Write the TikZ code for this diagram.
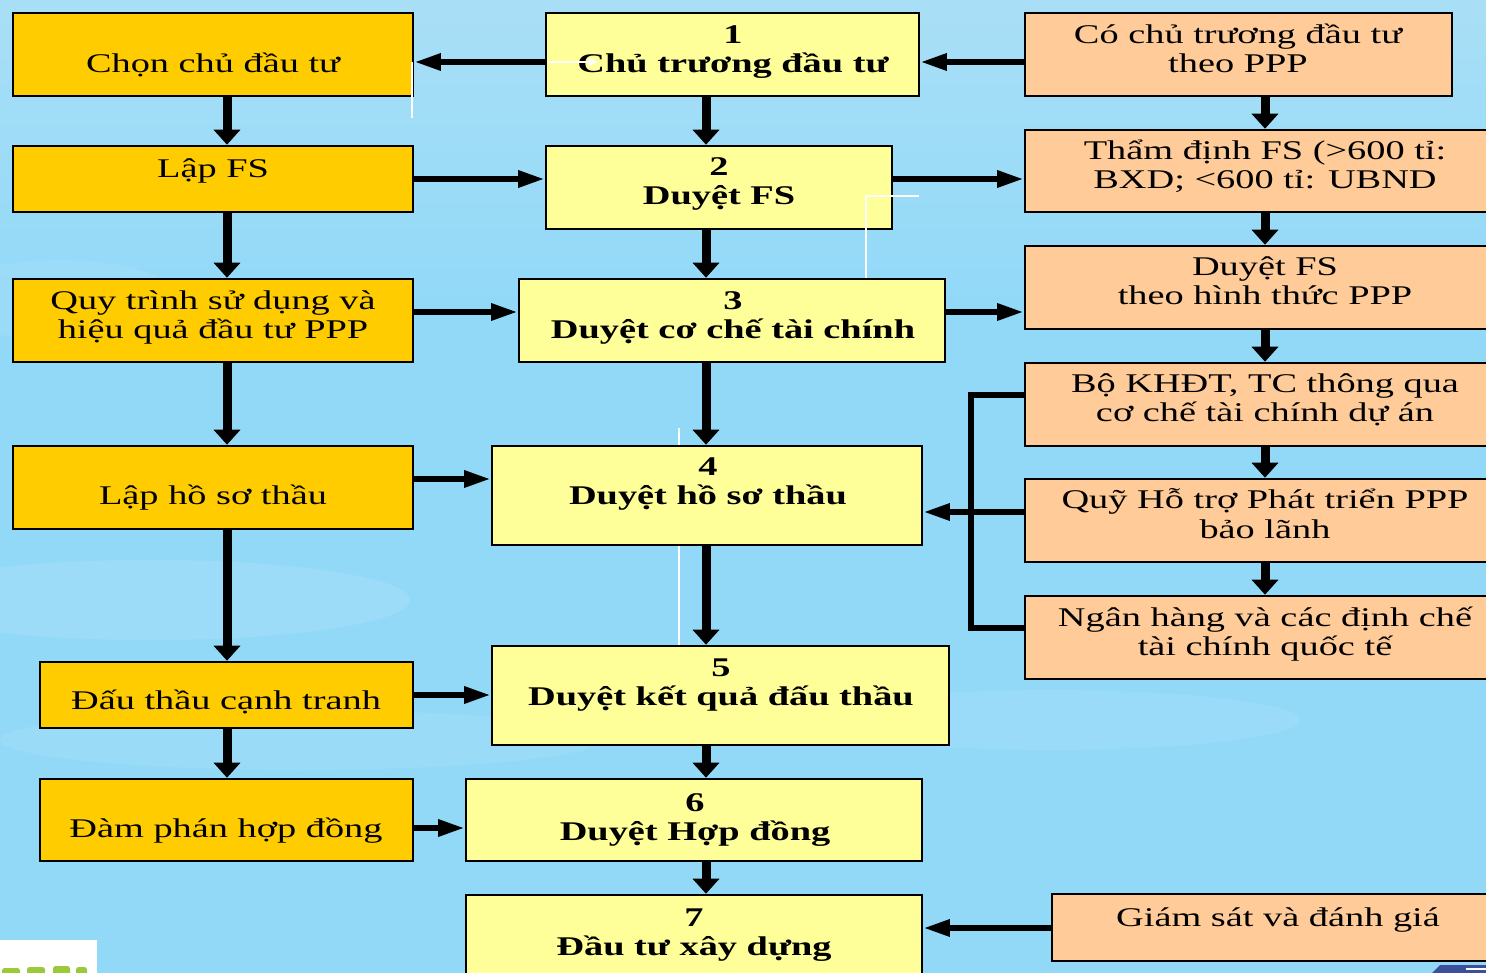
\documentclass[tikz,border=0pt]{standalone}
\usepackage{fontspec}
\setmainfont{Liberation Serif}[FakeStretch=1.42]
\usetikzlibrary{arrows.meta,fit,calc}
\definecolor{gold}{HTML}{FFCC00}
\definecolor{lyel}{HTML}{FFFF99}
\definecolor{peach}{HTML}{FFCC99}
\definecolor{sky}{HTML}{92D9F8}
\definecolor{skytop}{HTML}{A9DFF6}
\definecolor{navy}{HTML}{3B4F9A}
\definecolor{leaf}{HTML}{9CC93A}
\begin{document}
\begin{tikzpicture}[x=0.75pt,y=-0.75pt,
  box/.style={draw=black,line width=1.9pt,inner sep=0pt},
  gbox/.style={box,fill=gold},
  ybox/.style={box,fill=lyel},
  pbox/.style={box,fill=peach},
  txt/.style={anchor=base,align=center,inner sep=0pt,yshift=-1.5pt,font=\fontsize{20.25pt}{21.75pt}\selectfont},
  btxt/.style={txt,font=\fontsize{20.25pt}{21.75pt}\selectfont\bfseries},
  va/.style={line width=6.75pt,-{Triangle[length=11.25pt,width=19.5pt]}},
  ha/.style={line width=4.5pt,-{Triangle[length=20pt,width=12pt]}},
  hl/.style={line width=4.5pt,line join=miter},
  art/.style={draw=white,line width=1.5pt}
]
\useasboundingbox (0,0) rectangle (1486,973);
\begin{scope}
\clip (0,0) rectangle (1486,973);
% background
\shade[top color=skytop,bottom color=sky] (0,0) rectangle (1486,300);
\fill[sky] (0,299) rectangle (1486,973);
\fill[white,opacity=0.10] (150,600) ellipse (260 and 40);
\fill[white,opacity=0.08] (300,740) ellipse (300 and 30);
\fill[white,opacity=0.07] (1050,720) ellipse (250 and 30);
\fill[white,opacity=0.08] (60,300) ellipse (120 and 40);
% artifact behind box 4
\draw[art] (679,428) -- (679,645);

% coordinates for connector lines
\coordinate (xL) at (227,0);
\coordinate (xM) at (706,0);
\coordinate (xR) at (1265,0);
\coordinate (y1) at (0,62);
\coordinate (y2) at (0,179);
\coordinate (y3) at (0,312);
\coordinate (y4) at (0,479);
\coordinate (y4r) at (0,512);
\coordinate (y5) at (0,695);
\coordinate (y6) at (0,828);
\coordinate (y7) at (0,928);
\coordinate (b1) at (971,395);
\coordinate (b2) at (971,628);

% left column
\node[gbox,fit={(13,13)(413,96)}] (L1) {};
\node[gbox,fit={(13,146)(413,212)}] (L2) {};
\node[gbox,fit={(13,279)(413,362)}] (L3) {};
\node[gbox,fit={(13,446)(413,529)}] (L4) {};
\node[gbox,fit={(40,662)(413,728)}] (L5) {};
\node[gbox,fit={(40,779)(413,861)}] (L6) {};
% middle column
\node[ybox,fit={(546,13)(919,96)}] (M1) {};
\node[ybox,fit={(546,146)(892,229)}] (M2) {};
\node[ybox,fit={(519,279)(945,362)}] (M3) {};
\node[ybox,fit={(492,446)(922,545)}] (M4) {};
\node[ybox,fit={(492,646)(949,745)}] (M5) {};
\node[ybox,fit={(466,779)(922,861)}] (M6) {};
\node[ybox,fit={(466,895)(922,990)}] (M7) {};
% right column
\node[pbox,fit={(1025,13)(1452,96)}] (R1) {};
\node[pbox,fit={(1025,130)(1500,212)}] (R2) {};
\node[pbox,fit={(1025,246)(1500,329)}] (R3) {};
\node[pbox,fit={(1025,363)(1500,446)}] (R4) {};
\node[pbox,fit={(1025,479)(1500,562)}] (R5) {};
\node[pbox,fit={(1025,596)(1500,679)}] (R6) {};
\node[pbox,fit={(1052,894)(1500,961)}] (R7) {};

% texts (base anchor = baseline of the last line)
\node[txt] (tL1) at (213,71) {Chọn chủ đầu tư};
\node[txt] (tL2) at (213,176) {Lập FS};
\node[txt] (tL3) at (213,337) {Quy trình sử dụng và\\hiệu quả đầu tư PPP};
\node[txt] (tL4) at (213,503) {Lập hồ sơ thầu};
\node[txt] (tL5) at (226,707) {Đấu thầu cạnh tranh};
\node[txt] (tL6) at (226,835) {Đàm phán hợp đồng};

\node[btxt] (tM1) at (733,71) {1\\Chủ trương đầu tư};
\node[btxt] (tM2) at (719,203) {2\\Duyệt FS};
\node[btxt] (tM3) at (733,337) {3\\Duyệt cơ chế tài chính};
\node[btxt] (tM4) at (708,503) {4\\Duyệt hồ sơ thầu};
\node[btxt] (tM5) at (721,703) {5\\Duyệt kết quả đấu thầu};
\node[btxt] (tM6) at (695,838) {6\\Duyệt Hợp đồng};
\node[btxt] (tM7) at (694,953) {7\\Đầu tư xây dựng};

\node[txt] (tR1) at (1238,71) {Có chủ trương đầu tư\\theo PPP};
\node[txt] (tR2) at (1265,187) {Thẩm định FS (>600 tỉ:\\BXD; <600 tỉ: UBND};
\node[txt] (tR3) at (1265,303) {Duyệt FS\\theo hình thức PPP};
\node[txt] (tR4) at (1265,420) {Bộ KHĐT, TC thông qua\\cơ chế tài chính dự án};
\node[txt] (tR5) at (1265,536) {Quỹ Hỗ trợ Phát triển PPP\\bảo lãnh};
\node[txt] (tR6) at (1265,653) {Ngân hàng và các định chế\\tài chính quốc tế};
\node[txt] (tR7) at (1278,924) {Giám sát và đánh giá};

% vertical arrows
\draw[va] (L1.south -| xL) -- (L2.north -| xL);
\draw[va] (L2.south -| xL) -- (L3.north -| xL);
\draw[va] (L3.south -| xL) -- (L4.north -| xL);
\draw[va] (L4.south -| xL) -- (L5.north -| xL);
\draw[va] (L5.south -| xL) -- (L6.north -| xL);
\draw[va] (M1.south -| xM) -- (M2.north -| xM);
\draw[va] (M2.south -| xM) -- (M3.north -| xM);
\draw[va] (M3.south -| xM) -- (M4.north -| xM);
\draw[va] (M4.south -| xM) -- (M5.north -| xM);
\draw[va] (M5.south -| xM) -- (M6.north -| xM);
\draw[va] (M6.south -| xM) -- (M7.north -| xM);
\draw[va] (R1.south -| xR) -- (R2.north -| xR);
\draw[va] (R2.south -| xR) -- (R3.north -| xR);
\draw[va] (R3.south -| xR) -- (R4.north -| xR);
\draw[va] (R4.south -| xR) -- (R5.north -| xR);
\draw[va] (R5.south -| xR) -- (R6.north -| xR);

% horizontal arrows
\draw[ha] (M1.west |- y1) -- (L1.east |- y1);
\draw[ha] (R1.west |- y1) -- (M1.east |- y1);
\draw[ha] (L2.east |- y2) -- (M2.west |- y2);
\draw[ha] (M2.east |- y2) -- (R2.west |- y2);
\draw[ha] (L3.east |- y3) -- (M3.west |- y3);
\draw[ha] (M3.east |- y3) -- (R3.west |- y3);
\draw[ha] (L4.east |- y4) -- (M4.west |- y4);
\draw[hl] (R4.west |- b1) -- (b1) -- (b2) -- (R6.west |- b2);
\draw[ha] (R5.west |- y4r) -- (M4.east |- y4r);
\draw[ha] (L5.east |- y5) -- (M5.west |- y5);
\draw[ha] (L6.east |- y6) -- (M6.west |- y6);
\draw[ha] (R7.west |- y7) -- (M7.east |- y7);

% white artifacts on top
\draw[art] (412,62) -- (412,118);
\draw[art,-{Triangle[length=7pt,width=6pt]}] (548,62) -- (598,62);
\draw[art] (919,196) -- (866,196) -- (866,278);

% corner pieces
\fill[white] (0,940) rectangle (97,973);
\fill[leaf,rounded corners=2pt] (2,968) rectangle (20,980);
\fill[leaf,rounded corners=2pt] (27,967) rectangle (45,980);
\fill[leaf,rounded corners=2pt] (53,966) rectangle (70,980);
\fill[leaf,rounded corners=2pt] (76,967) rectangle (87,980);
\fill[navy] (1432,973) -- (1440,965) -- (1486,965) -- (1486,973) -- cycle;
\draw[white,line width=1.5pt] (1466,969) -- (1486,969);
\end{scope}
\end{tikzpicture}
\end{document}
